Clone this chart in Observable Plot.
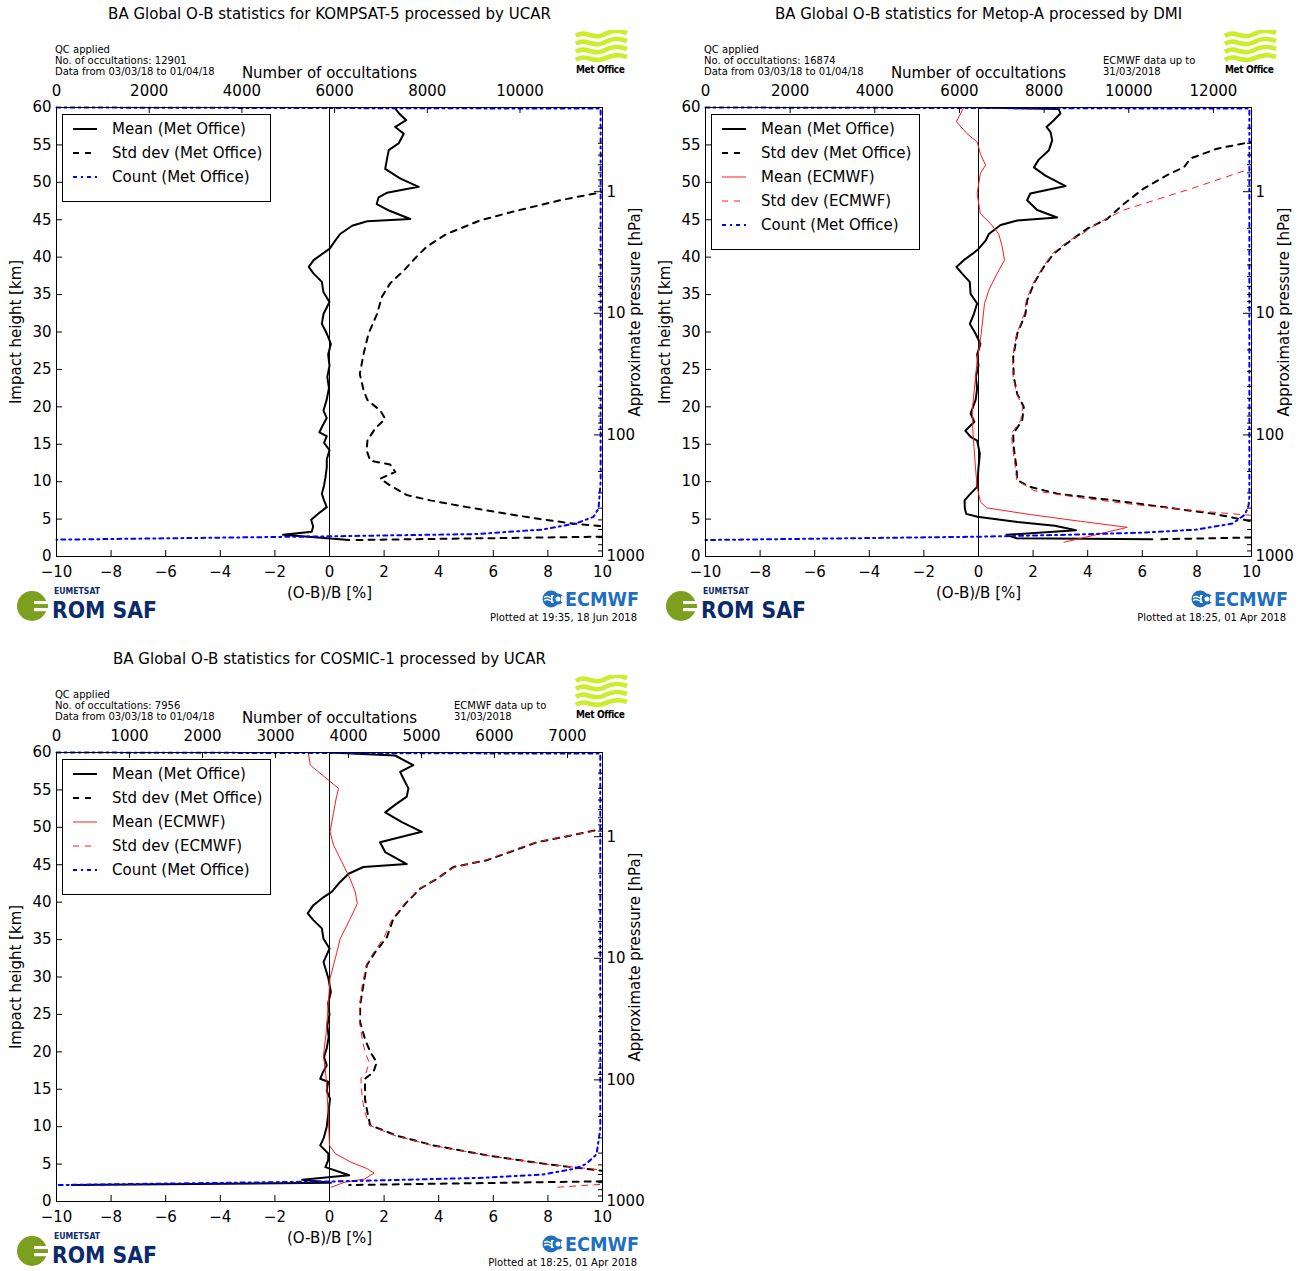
<!DOCTYPE html>
<html>
<head>
<meta charset="utf-8">
<script src="https://cdn.jsdelivr.net/npm/d3@7"></script>
<script src="https://cdn.jsdelivr.net/npm/@observablehq/plot@0.6"></script>
<style>
  body { margin: 0; background: #fff; font-family: "DejaVu Sans", sans-serif; }
  #page { position: relative; width: 1301px; height: 1271px; overflow: hidden; background: #fff; }
  .panel { position: absolute; width: 649px; height: 645px; }
  .panel > svg { position: absolute; left: 0; top: 0; }
  .abs { position: absolute; white-space: nowrap; }
  .legend { position: absolute; border: 1px solid #000; background: #fff; box-sizing: border-box; }
  .legend .row { position: absolute; left: 0; height: 20px; font-size: 15px; line-height: 20px; }
  .legend svg { position: absolute; left: 9px; top: 0; }
  .legend span { position: absolute; left: 49px; top: 0; white-space: nowrap; }
  .small { font-size: 10px; line-height: 11px; color: #000; }
</style>
</head>
<body>
<div id="page"></div>
<script>
// ---------------- shared axis values ----------------
const xTicks = [-10, -8, -6, -4, -2, 0, 2, 4, 6, 8, 10];
const yTicks = [0, 5, 10, 15, 20, 25, 30, 35, 40, 45, 50, 55, 60];
const pressureMajor = [1, 10, 100, 1000];
const pressureMinor = [0.3,0.4,0.5,0.6,0.7,0.8,0.9, 2,3,4,5,6,7,8,9, 20,30,40,50,60,70,80,90, 200,300,400,500,600,700,800,900];
const kmPerDecade = 16.25;

// ---------------- KOMPSAT-5 (UCAR) : [height km, value] ----------------
const k5CountTicks = [0, 2000, 4000, 6000, 8000, 10000];
const k5CountMax = 11780;
const k5MeanMO = [[59.9,2.40],[59.2,2.55],[58.3,2.81],[57.4,2.41],[56.5,2.72],[55.2,2.53],[54.3,2.17],[53.0,2.10],[51.8,2.04],[50.5,2.60],[49.4,3.27],[48.6,2.10],[48.0,1.80],[47.1,1.73],[46.2,2.20],[45.1,2.96],[44.8,1.38],[44.2,0.83],[43.1,0.39],[42.2,0.21],[41.1,0.0],[40.4,-0.28],[39.6,-0.58],[38.7,-0.76],[37.8,-0.58],[36.7,-0.28],[35.3,-0.22],[34.0,0.0],[32.4,-0.22],[31.1,-0.28],[29.8,-0.10],[28.4,0.05],[27.0,-0.05],[25.5,0.0],[24.0,-0.08],[22.5,-0.02],[21.0,-0.10],[19.5,-0.22],[18.5,-0.10],[17.5,-0.25],[16.6,-0.37],[16.1,-0.10],[15.2,-0.20],[14.2,0.0],[13.0,-0.10],[11.9,-0.10],[10.5,-0.15],[9.5,-0.20],[8.4,-0.28],[7.5,-0.20],[6.6,-0.10],[5.9,-0.35],[4.9,-0.67],[4.0,-0.60],[3.3,-0.65],[2.9,-1.70],[2.2,0.72]];
const k5StdMO = [[49.2,10.6],[48.7,10.0],[47.6,8.44],[46.1,6.74],[44.9,5.51],[43.1,4.29],[41.4,3.56],[40.1,3.20],[38.2,2.72],[36.5,2.22],[34.7,1.92],[32.4,1.74],[29.8,1.43],[27.1,1.25],[24.4,1.11],[22.2,1.25],[20.9,1.39],[19.5,1.86],[18.4,2.04],[17.1,1.67],[15.5,1.39],[14.2,1.36],[12.8,1.49],[12.3,2.22],[11.3,2.41],[10.4,1.86],[9.5,2.22],[8.2,2.84],[7.5,3.69],[6.6,5.03],[5.7,6.50],[5.0,7.71],[4.4,8.93],[4.05,10.0],[3.1,16.0],[2.65,10.0],[2.2,0.87]];
const k5Count = [[60,0],[59.85,11740],[10,11740],[6.4,11694],[5.3,11586],[4.4,11197],[3.6,10485],[3.0,9060],[2.7,5930],[2.25,0]];

// ---------------- Metop-A (DMI) ----------------
const maCountTicks = [0, 2000, 4000, 6000, 8000, 10000, 12000];
const maCountMax = 12900;
const maMeanMO = [[60,0],[59.8,2.94],[59.2,3.0],[58.3,2.76],[57.4,2.49],[56.7,2.64],[55.6,2.70],[54.3,2.58],[53.0,2.20],[52.0,2.03],[50.9,2.45],[49.5,3.19],[48.5,1.90],[47.6,1.78],[46.3,2.15],[45.3,2.88],[44.9,1.42],[44.3,0.81],[43.1,0.38],[42.2,0.26],[41.1,0.0],[40.5,-0.20],[39.6,-0.54],[38.7,-0.81],[37.8,-0.60],[36.7,-0.32],[35.1,-0.29],[33.8,-0.05],[32.4,-0.17],[31.1,-0.32],[29.8,-0.11],[28.4,0.07],[27.0,-0.05],[25.5,0.0],[24.0,-0.10],[22.5,-0.05],[21.0,-0.10],[19.1,-0.29],[18.0,-0.15],[16.8,-0.48],[16.0,-0.29],[15.5,-0.05],[13.7,0.05],[11.9,0.0],[9.3,-0.05],[8.4,-0.29],[7.5,-0.51],[6.4,-0.50],[5.7,-0.45],[5.3,-0.04],[4.6,1.43],[4.1,2.80],[3.5,3.57],[2.9,1.02],[2.45,1.37],[2.3,6.37]];
const maStdMO = [[56.5,11.0],[55.4,10.0],[54.5,8.74],[53.2,7.77],[52.0,7.52],[51.2,7.03],[49.2,6.06],[47.1,5.32],[45.1,4.71],[43.8,3.98],[42.2,3.37],[40.5,2.76],[38.7,2.39],[36.5,2.03],[34.2,1.78],[32.4,1.72],[29.8,1.42],[26.6,1.27],[24.0,1.29],[21.7,1.42],[20.0,1.66],[18.2,1.60],[16.4,1.27],[14.6,1.29],[11.9,1.39],[10.2,1.42],[9.3,1.90],[8.4,2.88],[7.5,4.96],[6.6,6.79],[5.7,8.62],[4.7,10.0],[3.5,16.0],[2.55,10.0],[2.3,6.60]];
const maMeanEC = [[60,-0.54],[58.1,-0.81],[56.5,-0.42],[55.4,-0.05],[53.8,0.07],[52.3,0.26],[51.2,0.07],[48.5,-0.05],[45.8,0.07],[44.5,0.44],[43.1,0.74],[41.4,0.87],[39.6,0.95],[37.8,0.68],[35.6,0.38],[33.8,0.22],[29.8,0.10],[26.2,-0.05],[23.1,-0.13],[19.5,-0.23],[16.4,-0.20],[11.9,-0.11],[9.3,-0.05],[7.3,0.07],[6.5,0.30],[5.6,1.90],[4.7,3.74],[3.9,5.45],[3.0,4.41],[1.9,3.13]];
const maStdEC = [[52.5,11.0],[51.6,9.78],[49.4,8.0],[48.0,6.79],[46.3,5.32],[44.5,4.35],[43.1,3.80],[42.2,3.30],[40.5,2.72],[38.7,2.36],[36.5,2.00],[34.2,1.75],[32.4,1.68],[29.8,1.40],[26.6,1.25],[24.0,1.27],[21.7,1.40],[20.0,1.62],[18.2,1.55],[16.4,1.20],[14.6,1.25],[11.9,1.35],[10.2,1.40],[8.8,2.03],[7.9,3.61],[7.0,5.57],[6.1,8.0],[5.5,10.0],[4.5,12.0]];
const maCount = [[60,0],[59.85,12850],[8,12850],[6.8,12830],[5.6,12746],[4.4,12450],[3.6,11600],[3.2,10400],[2.9,8500],[2.65,6500],[2.2,0]];

// ---------------- COSMIC-1 (UCAR) ----------------
const c1CountTicks = [0, 1000, 2000, 3000, 4000, 5000, 6000, 7000];
const c1CountMax = 7480;
const c1MeanMO = [[60,0],[59.6,2.40],[58.3,3.07],[57.4,2.59],[56.5,2.71],[55.2,2.89],[54.1,2.83],[53.0,2.40],[52.0,2.04],[50.7,2.65],[49.4,3.38],[48.0,1.85],[46.7,2.04],[45.1,2.83],[44.7,1.24],[43.8,0.70],[42.7,0.39],[41.4,0.09],[40.5,-0.28],[39.6,-0.59],[38.5,-0.80],[37.6,-0.59],[36.5,-0.28],[35.1,-0.22],[33.8,0.0],[32.0,-0.22],[29.8,-0.04],[28.0,0.05],[26.5,-0.05],[25.0,0.0],[23.5,-0.08],[22.0,-0.03],[20.5,-0.10],[19.3,-0.20],[18.2,-0.10],[17.2,-0.25],[16.4,-0.34],[16.0,-0.05],[14.8,-0.10],[13.7,0.02],[11.9,-0.04],[10.0,-0.10],[8.4,-0.22],[7.5,-0.34],[6.4,-0.04],[5.5,-0.05],[4.6,-0.15],[3.5,0.72],[2.9,-1.0],[2.5,0.05],[2.2,-9.44]];
const c1StdMO = [[50.5,11.0],[49.8,10.0],[48.7,8.56],[48.0,7.59],[46.7,6.61],[45.6,5.76],[44.7,4.54],[43.1,3.93],[41.8,3.32],[40.0,2.83],[37.8,2.34],[35.3,2.10],[33.3,1.67],[31.6,1.37],[28.9,1.24],[26.2,1.12],[24.0,1.12],[21.7,1.30],[20.0,1.49],[18.6,1.73],[17.3,1.61],[16.4,1.30],[13.7,1.30],[11.9,1.39],[10.2,1.49],[8.8,2.46],[7.5,3.80],[6.1,5.88],[5.0,7.95],[4.1,10.0],[3.3,15.0],[2.7,10.0],[2.2,0.72]];
const c1MeanEC = [[59.8,-0.77],[58.3,-0.70],[56.5,-0.10],[55.2,0.33],[53.8,0.24],[52.0,0.15],[49.4,0.02],[47.6,0.15],[45.4,0.45],[43.1,0.76],[41.4,0.94],[39.8,1.02],[37.8,0.76],[35.1,0.39],[33.3,0.27],[29.8,0.02],[26.2,-0.05],[22.6,-0.12],[19.5,-0.22],[16.4,-0.12],[11.9,-0.05],[7.5,0.0],[6.4,0.21],[5.3,0.76],[4.4,1.37],[3.8,1.63],[3.0,1.28],[2.6,0.57],[1.9,0.06]];
const c1StdEC = [[50.5,11.0],[49.7,10.0],[48.7,8.50],[48.0,7.55],[46.7,6.55],[45.6,5.70],[44.7,4.60],[43.1,3.90],[41.8,3.30],[40.0,2.80],[37.8,2.30],[35.3,2.00],[33.3,1.62],[31.6,1.35],[28.9,1.20],[26.2,1.10],[24.0,1.10],[21.7,1.20],[20.0,1.30],[18.6,1.45],[17.3,1.35],[16.4,1.15],[13.7,1.20],[11.9,1.30],[10.2,1.45],[8.8,2.40],[7.5,3.75],[6.1,5.85],[5.0,7.90],[4.2,10.0],[3.2,15.0],[2.3,10.0],[1.9,8.30]];
const c1Count = [[60,0],[59.85,7450],[9.7,7450],[6.3,7398],[5.0,7254],[4.4,7110],[3.6,6658],[3.15,5780],[2.7,3900],[2.2,0]];

// ---------------- panel texts ----------------
const panels = [
  { left: 0, top: 0, title: "BA Global O-B statistics for KOMPSAT-5 processed by UCAR", nocc: "12901",
    ecmwfNote: false, plotted: "Plotted at 19:35, 18 Jun 2018",
    countTicks: k5CountTicks, countMax: k5CountMax, meanMO: k5MeanMO, stdMO: k5StdMO, count: k5Count },
  { left: 649, top: 0, title: "BA Global O-B statistics for Metop-A processed by DMI", nocc: "16874",
    ecmwfNote: true, plotted: "Plotted at 18:25, 01 Apr 2018",
    countTicks: maCountTicks, countMax: maCountMax, meanMO: maMeanMO, stdMO: maStdMO, count: maCount,
    meanEC: maMeanEC, stdEC: maStdEC },
  { left: 0, top: 645, title: "BA Global O-B statistics for COSMIC-1 processed by UCAR", nocc: "7956",
    ecmwfNote: true, plotted: "Plotted at 18:25, 01 Apr 2018",
    countTicks: c1CountTicks, countMax: c1CountMax, meanMO: c1MeanMO, stdMO: c1StdMO, count: c1Count,
    meanEC: c1MeanEC, stdEC: c1StdEC }
];

const STY = {
  meanMO: { stroke: "#000", strokeWidth: 2, dash: null },
  stdMO: { stroke: "#000", strokeWidth: 2, dash: "6,6" },
  meanEC: { stroke: "#ff1a1a", strokeWidth: 1, dash: null },
  stdEC: { stroke: "#ff1a1a", strokeWidth: 1, dash: "6,6" },
  count: { stroke: "#0000ff", strokeWidth: 2, dash: "4,4,2,4" }
};

const pToH = p => kmPerDecade * (3 - Math.log10(p));
const fmtMinus = d => d < 0 ? "\u2212" + Math.abs(d) : String(d);

function buildPlot(P) {
  const W = 649, H = 645, ml = 56, mr = 47, mt = 107, mb = 89;
  const plotW = W - ml - mr, plotH = H - mt - mb;
  const toX = c => -10 + 20 * c / P.countMax;
  const line = (data, s, clip, xf) => Plot.line(data, {
    x: xf || (d => d[1]), y: d => d[0], stroke: s.stroke, strokeWidth: s.strokeWidth,
    strokeDasharray: s.dash || undefined, clip: clip, curve: "linear"
  });
  const T = (data, o) => Plot.text(data, Object.assign({ fontSize: 15, lineAnchor: "middle" }, o));
  const marks = [
    Plot.ruleX([0], { stroke: "#000", strokeWidth: 1 }),
    line(P.meanMO, STY.meanMO, true),
    line(P.stdMO, STY.stdMO, true)
  ];
  if (P.meanEC) marks.push(line(P.meanEC, STY.meanEC, true));
  if (P.stdEC) marks.push(line(P.stdEC, STY.stdEC, true));
  marks.push(line(P.count, STY.count, false, d => toX(d[1])));
  marks.push(Plot.frame({ stroke: "#000", strokeWidth: 1 }));
  // inward tick marks
  marks.push(Plot.tickX(xTicks, { x: d => d, insetTop: plotH - 6, stroke: "#000" }));
  marks.push(Plot.tickX(P.countTicks, { x: c => toX(c), insetBottom: plotH - 6, stroke: "#000" }));
  marks.push(Plot.tickY(yTicks, { y: d => d, insetRight: plotW - 6, stroke: "#000" }));
  marks.push(Plot.tickY(pressureMajor, { y: pToH, insetLeft: plotW - 8, stroke: "#000" }));
  marks.push(Plot.tickY(pressureMinor, { y: pToH, insetLeft: plotW - 4, stroke: "#000" }));
  // tick labels
  marks.push(T(xTicks, { x: d => d, text: fmtMinus, frameAnchor: "bottom", dy: 16, textAnchor: "middle" }));
  marks.push(T(P.countTicks, { x: c => toX(c), text: c => String(c), frameAnchor: "top", dy: -16, textAnchor: "middle" }));
  marks.push(T(yTicks, { y: d => d, text: d => String(d), frameAnchor: "left", dx: -5, textAnchor: "end" }));
  marks.push(T(pressureMajor, { y: pToH, text: d => String(d), frameAnchor: "right", dx: 4, textAnchor: "start" }));
  // axis titles
  marks.push(T(["(O-B)/B [%]"], { frameAnchor: "bottom", dy: 37, textAnchor: "middle" }));
  marks.push(T(["Number of occultations"], { frameAnchor: "top", dy: -34, textAnchor: "middle" }));
  marks.push(T(["Impact height [km]"], { frameAnchor: "left", dx: -40, rotate: -90, textAnchor: "middle" }));
  marks.push(T(["Approximate pressure [hPa]"], { frameAnchor: "right", dx: 33, dy: -20, rotate: -90, textAnchor: "middle" }));
  // title
  marks.push(T([P.title], { frameAnchor: "top", dy: -93, textAnchor: "middle" }));

  return Plot.plot({
    width: W, height: H,
    marginLeft: ml, marginRight: mr, marginTop: mt, marginBottom: mb,
    x: { domain: [-10, 10], axis: null },
    y: { domain: [0, 60], axis: null },
    style: { fontFamily: "DejaVu Sans, sans-serif", fontSize: "15px", color: "#000", background: "transparent", overflow: "visible" },
    marks
  });
}

function legendHTML(P) {
  const items = [["Mean (Met Office)", STY.meanMO], ["Std dev (Met Office)", STY.stdMO]];
  if (P.meanEC) { items.push(["Mean (ECMWF)", STY.meanEC]); items.push(["Std dev (ECMWF)", STY.stdEC]); }
  items.push(["Count (Met Office)", STY.count]);
  const h = 14 + items.length * 24 + 2;
  let s = `<div class="legend" style="left:62px;top:114px;width:209px;height:${h}px">`;
  items.forEach((it, i) => {
    const st = it[1];
    s += `<div class="row" style="top:${4 + i * 24}px"><svg width="32" height="20"><line x1="1" y1="10" x2="25" y2="10" stroke="${st.stroke}" stroke-width="${st.strokeWidth}" ${st.dash ? `stroke-dasharray="${st.dash}"` : ""}/></svg><span>${it[0]}</span></div>`;
  });
  return s + "</div>";
}

const metOfficeLogo = `<div class="abs" style="left:575px;top:30px;width:53px;height:48px">
<svg width="53" height="34" viewBox="0 0 53 34">
  <g fill="none" stroke="#cbee2c" stroke-width="4.6" stroke-linecap="butt">
    <path d="M1,6 C10,-1 18,10 28,5 S44,0 52,3"/>
    <path d="M1,14 C10,7 18,18 28,13 S44,8 52,11"/>
    <path d="M1,22 C10,15 18,26 28,21 S44,16 52,19"/>
    <path d="M1,30 C10,23 18,33 28,29 S44,24 52,27"/>
  </g>
</svg>
<div style="position:absolute;left:1px;top:34px;font:bold 10px 'DejaVu Sans Condensed','DejaVu Sans',sans-serif;letter-spacing:-0.4px">Met Office</div>
</div>`;

const romSafLogo = `<div class="abs" style="left:14px;top:583px;width:146px;height:46px">
<svg width="146" height="46" viewBox="0 0 146 46">
  <circle cx="18" cy="23" r="15" fill="#7d9f1f"/>
  <rect x="20" y="18" width="16" height="3.2" fill="#fff"/>
  <rect x="20" y="25" width="16" height="3.2" fill="#fff"/>
  <rect x="17" y="21.2" width="17" height="3.8" fill="#7d9f1f"/>
  <text x="40" y="11" font-family="DejaVu Sans Condensed, DejaVu Sans, sans-serif" font-weight="bold" font-size="8" fill="#0b2a6b" textLength="46" lengthAdjust="spacingAndGlyphs">EUMETSAT</text>
  <text x="38" y="35" font-family="DejaVu Sans Condensed, DejaVu Sans, sans-serif" font-weight="bold" font-size="23" fill="#0b2a6b" textLength="105" lengthAdjust="spacingAndGlyphs">ROM SAF</text>
</svg></div>`;

const ecmwfLogo = `<div class="abs" style="left:540px;top:589px;width:100px;height:22px">
<svg width="100" height="22" viewBox="0 0 100 22">
  <circle cx="11" cy="10" r="8.5" fill="#1f6fc1"/>
  <rect x="11" y="6" width="12" height="8" fill="#fff"/>
  <path d="M4,8.5 q3,-2 6,0 t6,0 M4,11.5 q3,-2 6,0 t6,0" fill="none" stroke="#fff" stroke-width="1.5"/>
  <circle cx="18" cy="10" r="4" fill="none" stroke="#1f6fc1" stroke-width="3"/>
  <rect x="21" y="7" width="3" height="6" fill="#fff"/>
  <text x="25" y="17" font-family="DejaVu Sans Condensed, DejaVu Sans, sans-serif" font-weight="bold" font-size="19" fill="#1f6fc1" textLength="74" lengthAdjust="spacingAndGlyphs">ECMWF</text>
</svg></div>`;

const page = document.getElementById("page");
panels.forEach(P => {
  const div = document.createElement("div");
  div.className = "panel";
  div.style.left = P.left + "px";
  div.style.top = P.top + "px";
  div.appendChild(buildPlot(P));
  let html = "";
  html += `<div class="abs small" style="left:55px;top:44px">QC applied<br>No. of occultations: ${P.nocc}<br>Data from 03/03/18 to 01/04/18</div>`;
  if (P.ecmwfNote) html += `<div class="abs small" style="left:454px;top:55px">ECMWF data up to<br>31/03/2018</div>`;
  html += metOfficeLogo + romSafLogo + ecmwfLogo;
  html += `<div class="abs small" style="right:12px;top:612px">${P.plotted}</div>`;
  html += legendHTML(P);
  div.insertAdjacentHTML("beforeend", html);
  page.appendChild(div);
});
</script>
</body>
</html>
